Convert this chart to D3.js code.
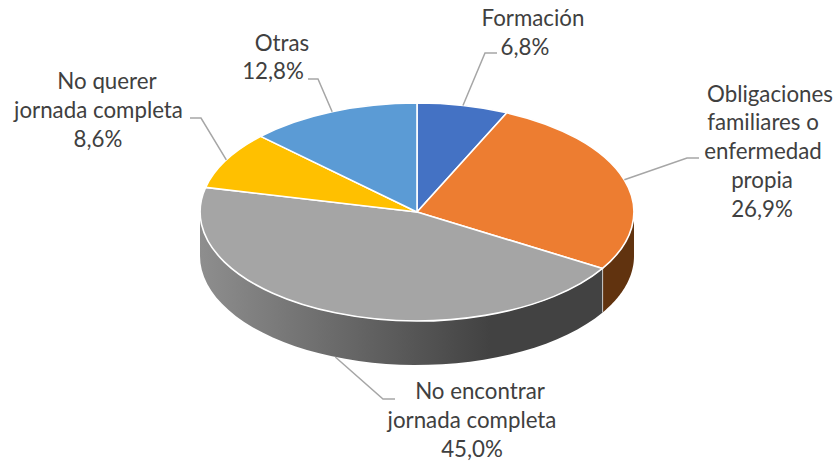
<!DOCTYPE html>
<html><head><meta charset="utf-8">
<script src="https://cdn.jsdelivr.net/npm/d3@7"></script>
<style>html,body{margin:0;background:#fff}svg{display:block}text{font-family:Lato,sans-serif;font-size:22.3px;fill:#404040}</style>
</head><body><svg id="c" width="835" height="462"></svg>
<script>
const categories=["Formación","Obligaciones familiares o enfermedad propia","No encontrar jornada completa","No querer jornada completa","Otras"];
const values=[6.8,26.9,45.0,8.6,12.8];
const valueLabels=["6,8%","26,9%","45,0%","8,6%","12,8%"];
const labelLines=[["Formación"],["Obligaciones","familiares o","enfermedad","propia"],["No encontrar","jornada completa"],["No querer","jornada completa"],["Otras"]];
const topColors=["#4472c4","#ed7d31","#a5a5a5","#ffc000","#5b9bd5"];
const sideColors=["#2a4478","#61330f","url(#gs)","#997300","#375d80"];
// label layout: centre x per line, first baseline y, line step, leader elbow and end
const labelX=[[533,525],[770,763,763,762,762],[480,472,472],[107,98.5,98],[282,273]];
const labelY=[26,101.5,398.5,89,50.5];
const labelStep=[28.5,28.9,29.3,29,28.7];
const elbows=[[485,53,497],[687,158,699],[383,399,395],[201,118,190],[318,79,308]];

const cx=417,cy=212,rx=217,ry=109,depth=44;
const svg=d3.select("#c");
const sx=d3.scaleLinear().domain([-1,1]).range([cx-rx,cx+rx]);
const sy=d3.scaleLinear().domain([-1,1]).range([cy-ry,cy+ry]);
const pie=d3.pie().sort(null).value(d=>d);
const arcs=pie(values);

const g=svg.append("defs").append("linearGradient").attr("id","gs")
 .attr("gradientUnits","userSpaceOnUse").attr("x1",cx-rx).attr("x2",490).attr("y1",0).attr("y2",0);
g.append("stop").attr("offset",0).attr("stop-color","#8e8e8e");
g.append("stop").attr("offset",1).attr("stop-color","#424242");

const ex=a=>sx(Math.sin(a)),ey=a=>sy(-Math.cos(a));
const line=d3.line();
// sides (front half of the rim only)
arcs.forEach((d,i)=>{
  const a0=Math.max(d.startAngle,Math.PI/2),a1=Math.min(d.endAngle,Math.PI*1.5);
  if(a1<=a0)return;
  const as=d3.range(0,41).map(k=>a0+(a1-a0)*k/40);
  const pts=as.map(a=>[ex(a),ey(a)]).concat(as.slice().reverse().map(a=>[ex(a),ey(a)+depth]));
  svg.append("path").attr("d",line(pts)+"Z").attr("fill",sideColors[i]);
});
// divider on the rim between orange and gray
const div=arcs[1].endAngle;
svg.append("path").attr("d",line([[ex(div),ey(div)],[ex(div),ey(div)+depth]])).attr("stroke","#c8c8c8").attr("stroke-width",1).attr("fill","none");

// top face
const arc=d3.arc().innerRadius(0).outerRadius(1);
svg.append("g").attr("transform",`translate(${cx},${cy}) scale(${rx},${ry})`)
 .selectAll("path").data(arcs).join("path").attr("d",arc)
 .attr("fill",(d,i)=>topColors[i]).attr("stroke","#fff").attr("stroke-width",1.6)
 .attr("stroke-linejoin","round").attr("vector-effect","non-scaling-stroke");

// leaders
arcs.forEach((d,i)=>{
  const m=(d.startAngle+d.endAngle)/2;
  const front=Math.cos(m)<-0.5;
  const e=elbows[i];
  svg.append("path").attr("d",line([[ex(m),ey(m)+(front?depth:0)],[e[0],e[1]],[e[2],e[1]]]))
   .attr("fill","none").attr("stroke","#a6a6a6").attr("stroke-width",1.5);
});
// labels
categories.forEach((c,i)=>{
  const t=svg.append("text").attr("text-anchor","middle").attr("y",labelY[i]);
  labelLines[i].concat([valueLabels[i]]).forEach((s,k)=>{
    t.append("tspan").attr("x",labelX[i][k]).attr("dy",k?labelStep[i]:0).text(s);
  });
});
</script></body></html>
